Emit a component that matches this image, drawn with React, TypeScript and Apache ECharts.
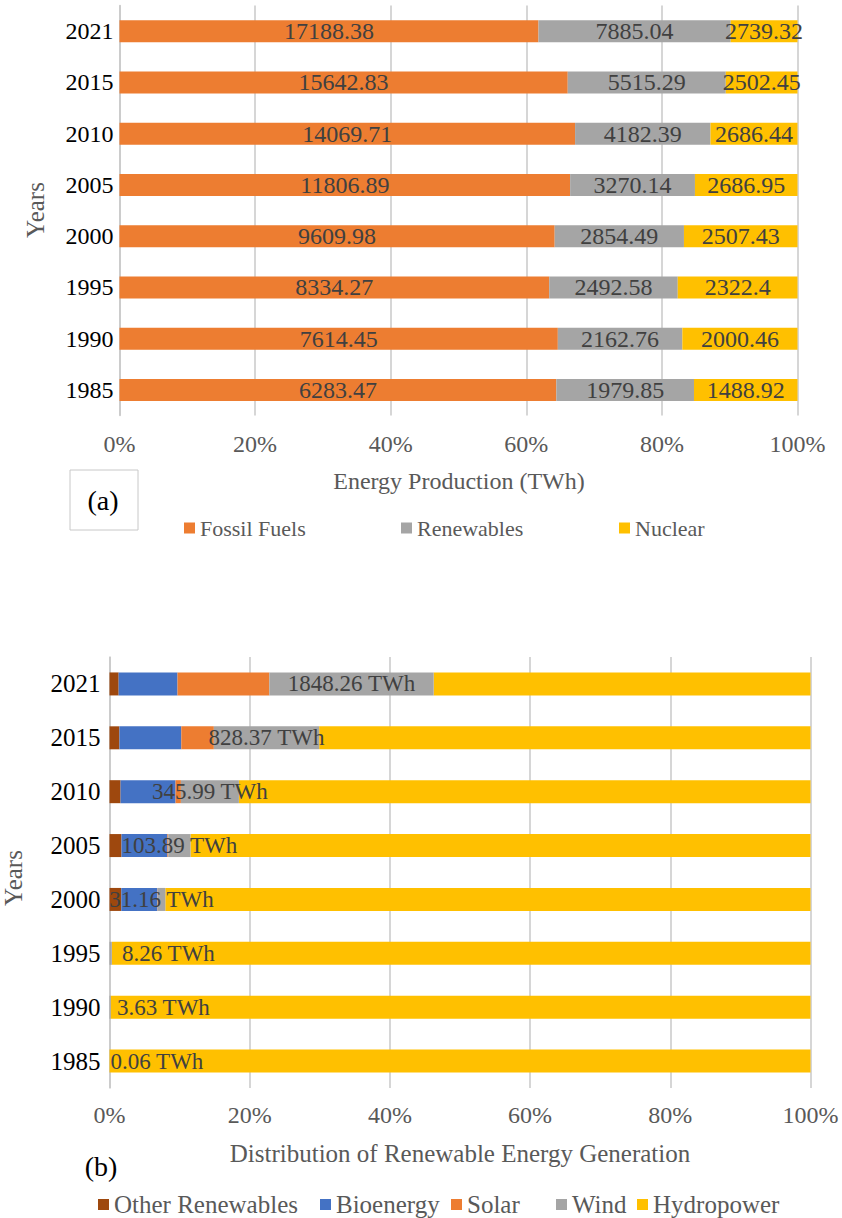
import React, { useEffect, useRef } from "react";
import * as echarts from "echarts";

// ---------- Data ----------
const years = ["1985", "1990", "1995", "2000", "2005", "2010", "2015", "2021"];

// Chart (a): energy production (TWh)
const fossilFuels = [6283.47, 7614.45, 8334.27, 9609.98, 11806.89, 14069.71, 15642.83, 17188.38];
const renewables = [1979.85, 2162.76, 2492.58, 2854.49, 3270.14, 4182.39, 5515.29, 7885.04];
const nuclear = [1488.92, 2000.46, 2322.4, 2507.43, 2686.95, 2686.44, 2502.45, 2739.32];

// Chart (b): renewable generation by source (TWh; wind labelled)
const otherRenewables = [0, 0, 0, 48, 56, 66, 78, 103];
const bioenergy = [0, 0, 0, 147, 214, 328, 487, 662];
const solar = [0, 0, 0, 1.08, 4, 32, 256, 1033];
const wind = [0.06, 3.63, 8.26, 31.16, 103.89, 345.99, 828.37, 1848.26];
const hydropower = [1979.79, 2159.13, 2484.32, 2627.25, 2892.25, 3410.4, 3865.92, 4238.78];

const xTicks = [0, 20, 40, 60, 80, 100];

const FONT = "'Liberation Serif', 'Times New Roman', serif";

function toPercent(groups: number[][]): number[][] {
  const totals = groups[0].map((_, i) => groups.reduce((s, g) => s + g[i], 0));
  return groups.map((g) => g.map((v, i) => (totals[i] ? (v / totals[i]) * 100 : 0)));
}

export default function App() {
  const ref = useRef<HTMLDivElement>(null);

  useEffect(() => {
    document.body.style.margin = "0";
    if (!ref.current) return;
    const chart = echarts.init(ref.current, undefined, { renderer: "svg" });

    const topRaw = [fossilFuels, renewables, nuclear];
    const topPct = toPercent(topRaw);
    const topNames = ["Fossil Fuels", "Renewables", "Nuclear"];
    const topColors = ["#ED7D31", "#A5A5A5", "#FFC000"];

    const botRaw = [otherRenewables, bioenergy, solar, wind, hydropower];
    const botPct = toPercent(botRaw);
    const botNames = ["Other Renewables", "Bioenergy", "Solar", "Wind", "Hydropower"];
    const botColors = ["#9E480E", "#4472C4", "#ED7D31", "#A5A5A5", "#FFC000"];

    const labelOffsets = [1, 7.5, 12.5];

    const topSeries = topNames.map((name, si) => ({
      name,
      type: "bar",
      stack: "a",
      xAxisIndex: 0,
      yAxisIndex: 0,
      barWidth: 22,
      itemStyle: { color: topColors[si] },
      label: {
        show: true,
        position: "inside",
        color: "#404040",
        fontFamily: FONT,
        fontSize: 24,
        formatter: (p: any) => String(topRaw[si][p.dataIndex]),
      },
      data: topPct[si],
    }));

    const botSeries = botNames.map((name, si) => {
      const isWind = name === "Wind";
      return {
        name,
        type: "bar",
        stack: "b",
        xAxisIndex: 1,
        yAxisIndex: 1,
        barWidth: 23,
        z: isWind ? 5 : 2,
        itemStyle: { color: botColors[si] },
        label: isWind
          ? {
              show: true,
              position: "inside",
              color: "#404040",
              fontFamily: FONT,
              fontSize: 23,
              formatter: (p: any) => `${wind[p.dataIndex]} TWh`,
            }
          : { show: false },
        data: botPct[si].map((v, i) =>
          isWind && i < 3
            ? {
                value: v,
                label: {
                  position: [labelOffsets[i], "50%"],
                  align: "left",
                  verticalAlign: "middle",
                },
              }
            : v
        ),
      };
    });

    const xAxisBase = {
      type: "value",
      min: xTicks[0],
      max: xTicks[xTicks.length - 1],
      interval: xTicks[1] - xTicks[0],
      axisLine: { show: false },
      axisTick: { show: false },
      splitLine: { show: true, lineStyle: { color: "#c8c8c8", width: 1.5 } },
      axisLabel: {
        formatter: "{value}%",
        color: "#595959",
        fontFamily: FONT,
        fontSize: 24,
        margin: 16,
      },
    };

    const yAxisBase = (margin: number, size: number) => ({
      type: "category",
      data: years,
      axisLine: { show: true, lineStyle: { color: "#c8c8c8", width: 1.5 } },
      axisTick: { show: false },
      axisLabel: { color: "#000", fontFamily: FONT, fontSize: size, margin },
    });

    const textEl = (
      text: string,
      x: number,
      y: number,
      size: number,
      color: string,
      rotation = 0
    ) => ({
      type: "text",
      x,
      y,
      rotation,
      style: {
        text,
        x: 0,
        y: 0,
        fill: color,
        font: `${size}px ${FONT}`,
        textAlign: "center",
        textVerticalAlign: "middle",
        align: "center",
        verticalAlign: "middle",
      },
    });

    const legendItem = (name: string, left: number, top: number, size: number, icon: number) => ({
      data: [name],
      left,
      top,
      padding: 0,
      icon: "rect",
      itemWidth: icon,
      itemHeight: icon,
      selectedMode: false,
      textStyle: { color: "#595959", fontFamily: FONT, fontSize: size },
    });

    const topLegendLefts = [184, 401, 619];
    const botLegendLefts = [98, 320, 451, 556, 637];

    chart.setOption({
      animation: false,
      backgroundColor: "#fff",
      grid: [
        { left: 119.5, top: 5.5, width: 678, height: 410 },
        { left: 109.5, top: 657, width: 701, height: 431 },
      ],
      xAxis: [
        { ...xAxisBase, gridIndex: 0 },
        { ...xAxisBase, gridIndex: 1, axisLabel: { ...xAxisBase.axisLabel, margin: 15 } },
      ],
      yAxis: [
        { ...yAxisBase(6, 24), gridIndex: 0 },
        { ...yAxisBase(9, 25), gridIndex: 1 },
      ],
      legend: [
        ...topNames.map((n, i) => legendItem(n, topLegendLefts[i], 517, 22, 11)),
        ...botNames.map((n, i) => legendItem(n, botLegendLefts[i], 1192, 25, 11)),
      ],
      graphic: [
        textEl("Years", 35, 210, 25, "#595959", Math.PI / 2),
        textEl("Years", 13, 878, 25, "#595959", Math.PI / 2),
        textEl("Energy Production (TWh)", 459, 481, 24, "#595959"),
        textEl("Distribution of Renewable Energy Generation", 460, 1153, 25, "#595959"),
        {
          type: "rect",
          shape: { x: 70, y: 470, width: 68, height: 60 },
          style: { fill: "none", stroke: "#c8c8c8", lineWidth: 1 },
        },
        textEl("(a)", 103, 500, 28, "#000"),
        textEl("(b)", 101, 1166, 28, "#000"),
      ],
      series: [...topSeries, ...botSeries],
    });

    return () => chart.dispose();
  }, []);

  return <div ref={ref} style={{ width: 842, height: 1218 }} />;
}
